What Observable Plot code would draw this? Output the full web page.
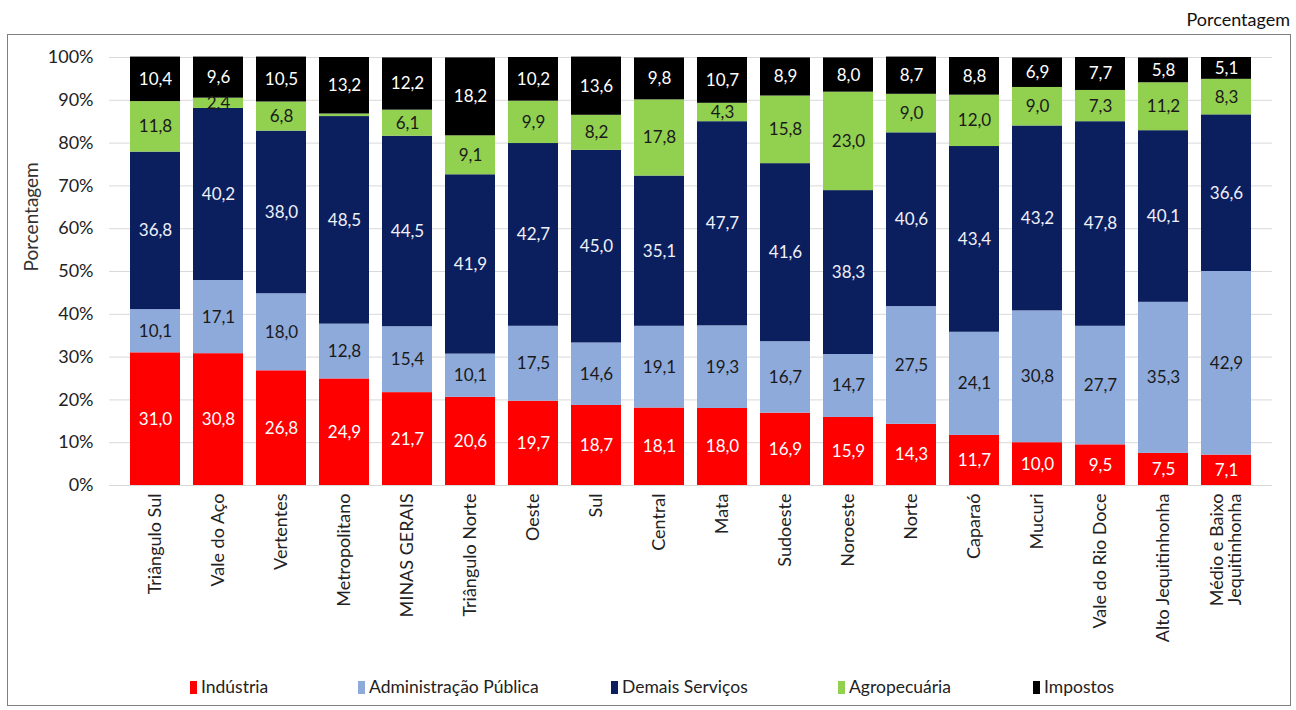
<!DOCTYPE html>
<html>
<head>
<meta charset="utf-8">
<script src="https://cdn.jsdelivr.net/npm/d3@7"></script>
<script src="https://cdn.jsdelivr.net/npm/@observablehq/plot@0.6"></script>
<style>
  body { margin: 0; background: #fff; font-family: Lato, "Open Sans", sans-serif; }
  #title { position: absolute; right: 6px; top: 8px; font-size: 18px; color: #111; }
  #frame { position: absolute; left: 7px; top: 34px; width: 1282px; height: 670px; border: 1px solid #7f7f7f; }
  #chart { position: absolute; left: 0; top: 0; }
  .leg { position: absolute; top: 641px; font-size: 17.5px; color: #222; white-space: nowrap; }
  .leg i { display: inline-block; width: 7px; height: 13px; margin-right: 4px; vertical-align: -1px; }
</style>
</head>
<body>
<div id="title">Porcentagem</div>
<div id="frame"><div id="chart"></div></div>
<script>
const regions = ["Triângulo Sul","Vale do Aço","Vertentes","Metropolitano","MINAS GERAIS","Triângulo Norte","Oeste","Sul","Central","Mata","Sudoeste","Noroeste","Norte","Caparaó","Mucuri","Vale do Rio Doce","Alto Jequitinhonha","Médio e Baixo\nJequitinhonha"];
const series = ["Indústria","Administração Pública","Demais Serviços","Agropecuária","Impostos"];
const industria = [31.0,30.8,26.8,24.9,21.7,20.6,19.7,18.7,18.1,18.0,16.9,15.9,14.3,11.7,10.0,9.5,7.5,7.1];
const admin     = [10.1,17.1,18.0,12.8,15.4,10.1,17.5,14.6,19.1,19.3,16.7,14.7,27.5,24.1,30.8,27.7,35.3,42.9];
const demais    = [36.8,40.2,38.0,48.5,44.5,41.9,42.7,45.0,35.1,47.7,41.6,38.3,40.6,43.4,43.2,47.8,40.1,36.6];
const agro      = [11.8,2.4,6.8,0.6,6.1,9.1,9.9,8.2,17.8,4.3,15.8,23.0,9.0,12.0,9.0,7.3,11.2,8.3];
const impostos  = [10.4,9.6,10.5,13.2,12.2,18.2,10.2,13.6,9.8,10.7,8.9,8.0,8.7,8.8,6.9,7.7,5.8,5.1];
const yTicks = [0,10,20,30,40,50,60,70,80,90,100];

const colors = ["#ff0000","#8eaadb","#0b1f5e","#92d050","#000000"];
const textColors = ["#ffffff","#1a1a1a","#f0f0f8","#1a1a1a","#ffffff"];
const valuesBySeries = [industria, admin, demais, agro, impostos];

const data = [];
series.forEach((s, si) => regions.forEach((r, ri) => data.push({region: r, series: s, value: valuesBySeries[si][ri]})));

const fmt = v => v.toFixed(1).replace(".", ",");

const marks = [
  Plot.gridY(yTicks, {stroke: "#d9d9d9", strokeOpacity: 1}),
  Plot.axisY(yTicks, {tickFormat: d => d + "%", tickSize: 0, tickPadding: 16, fontSize: 18, fill: "#222", label: null}),
  Plot.axisX({tickRotate: -90, tickSize: 0, tickPadding: 8, fontSize: 18, fill: "#222", label: null}),
  Plot.barY(data, {x: "region", y: "value", fill: "series", order: series}),
];
series.forEach((s, si) => {
  marks.push(Plot.text(data, Plot.stackY({
    x: "region", y: "value", z: "series", order: series,
    text: d => d.series === s && d.value >= 2 ? fmt(d.value) : null,
    fill: textColors[si], fontSize: 17
  })));
});

const chart = Plot.plot({
  width: 1282,
  height: 625,
  marginLeft: 101,
  marginRight: 18,
  marginTop: 22,
  marginBottom: 175,
  style: {fontFamily: "Lato, 'Open Sans', sans-serif", fontSize: "17px", color: "#222"},
  x: {domain: regions, padding: 0.2, label: null},
  y: {domain: [0, 100], label: null},
  color: {domain: series, range: colors},
  marks: [
    ...marks,
    Plot.text(["Porcentagem"], {frameAnchor: "left", dx: -78, rotate: -90, fontSize: 19, fill: "#333"})
  ]
});
document.getElementById("chart").appendChild(chart);

// legend
const legX = [182, 350, 603, 830, 1025];
const frame = document.getElementById("frame");
series.forEach((s, i) => {
  const d = document.createElement("div");
  d.className = "leg";
  d.style.left = legX[i] + "px";
  d.innerHTML = `<i style="background:${colors[i]}"></i>${s}`;
  frame.appendChild(d);
});
</script>
</body>
</html>
